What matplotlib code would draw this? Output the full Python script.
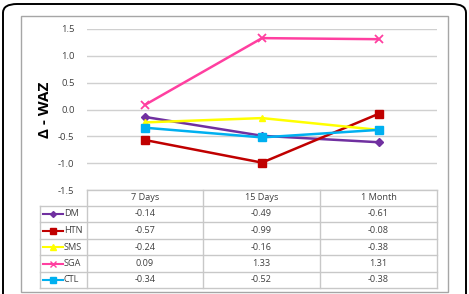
# WAZ change chart with data table underneath
import matplotlib.pyplot as plt
from matplotlib.patches import FancyBboxPatch, Rectangle
from matplotlib.lines import Line2D

periods = ['7 Days', '15 Days', '1 Month']
groups = ['DM', 'HTN', 'SMS', 'SGA', 'CTL']
dm = [-0.14, -0.49, -0.61]
htn = [-0.57, -0.99, -0.08]
sms = [-0.24, -0.16, -0.38]
sga = [0.09, 1.33, 1.31]
ctl = [-0.34, -0.52, -0.38]
yticks = [-1.5, -1.0, -0.5, 0.0, 0.5, 1.0, 1.5]

series = [dm, htn, sms, sga, ctl]
colors = ['#7030a0', '#c00000', '#ffff00', '#ff3fa0', '#00b0f0']
markers = ['D', 's', '^', 'x', 's']
msizes = [4, 6, 5, 6, 6]

W, H = 469, 294
fig = plt.figure(figsize=(W / 100, H / 100), dpi=100)
plt.rcParams['font.family'] = ['Open Sans', 'DejaVu Sans']


def fx(x):
    return x / W


def fy(y):
    return 1 - y / H


# outer rounded border and inner frame
fig.add_artist(FancyBboxPatch((fx(3), fy(330)), fx(463), (330 - 4) / H,
                              boxstyle='round,pad=0,rounding_size=0.03',
                              transform=fig.transFigure, fill=False,
                              ec='black', lw=1.4))
fig.add_artist(Rectangle((fx(21), fy(292)), fx(427), (292 - 16) / H,
                         transform=fig.transFigure, fill=False,
                         ec='#a6a6a6', lw=1.0))

# plot area
x0, x1, ytop, ybot = 87, 437, 29, 190
ax = fig.add_axes([fx(x0), fy(ybot), fx(x1 - x0), (ybot - ytop) / H])
xs = range(len(periods))
for vals, c, m, ms in zip(series, colors, markers, msizes):
    ax.plot(xs, vals, color=c, lw=1.8, marker=m, ms=ms, mew=1.3 if m == 'x' else 1,
            zorder=3)
ax.set_xlim(-0.5, 2.5)
ax.set_ylim(-1.5, 1.5)
ax.set_yticks(yticks)
ax.set_yticklabels(['%.1f' % v for v in yticks], fontsize=6.8, color='#404040')
ax.set_xticks([])
ax.grid(axis='y', color='#d0d0d0', lw=1)
ax.set_axisbelow(True)
ax.tick_params(axis='y', length=0, pad=9)
for s in ax.spines.values():
    s.set_visible(False)
ax.set_ylabel('\u0394 - WAZ', fontsize=11, fontweight='bold', labelpad=4)

# data table
col_x = [40, 87, 203, 320, 437]
row_y = [190, 206, 222, 239, 255, 272, 288]
lc = '#c8c8c8'
for x in col_x[1:]:
    fig.add_artist(Line2D([fx(x), fx(x)], [fy(190), fy(288)],
                          transform=fig.transFigure, color=lc, lw=1))
fig.add_artist(Line2D([fx(40), fx(40)], [fy(206), fy(288)],
                      transform=fig.transFigure, color=lc, lw=1))
for i, y in enumerate(row_y):
    xl = 87 if i == 0 else 40
    fig.add_artist(Line2D([fx(xl), fx(437)], [fy(y), fy(y)],
                          transform=fig.transFigure, color=lc, lw=1))

fs = 6.6
for j, p in enumerate(periods):
    cx = (col_x[j + 1] + col_x[j + 2]) / 2
    fig.text(fx(cx), fy(198), p, ha='center', va='center', fontsize=fs, color='#404040')

for i, (g, vals, c, m, ms) in enumerate(zip(groups, series, colors, markers, msizes)):
    cy = (row_y[i + 1] + row_y[i + 2]) / 2
    fig.add_artist(Line2D([fx(43), fx(63)], [fy(cy), fy(cy)],
                          transform=fig.transFigure, color=c, lw=1.5))
    fig.add_artist(Line2D([fx(53)], [fy(cy)], transform=fig.transFigure,
                          color=c, marker=m, ms=ms * 0.75, lw=0))
    fig.text(fx(64), fy(cy), g, ha='left', va='center', fontsize=fs, color='#404040')
    for j, v in enumerate(vals):
        cx = (col_x[j + 1] + col_x[j + 2]) / 2
        fig.text(fx(cx), fy(cy), '%.2f' % v, ha='center', va='center',
                 fontsize=fs, color='#404040')

fig.savefig('out.png', dpi=100)
